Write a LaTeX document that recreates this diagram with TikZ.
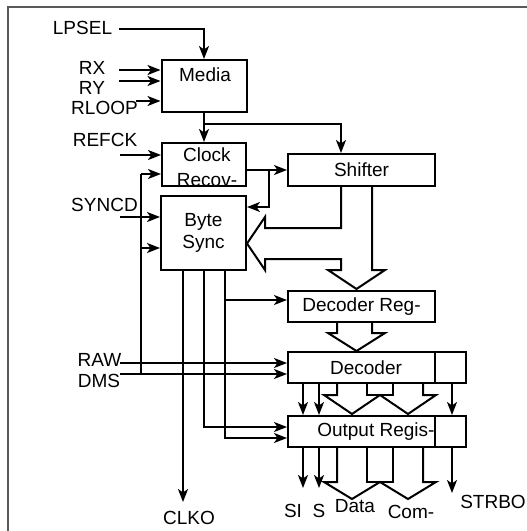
\documentclass[tikz,border=0pt]{standalone}
\usepackage{fontspec}
\setmainfont{Liberation Sans}
\usetikzlibrary{arrows.meta,positioning}

\begin{document}
\begin{tikzpicture}[x=1pt,y=-1pt,line width=2pt,
  blk/.style={draw,inner sep=0pt,align=center,font=\fontsize{19}{22}\selectfont},
  lbl/.style={inner sep=0pt,align=center,font=\fontsize{19}{22}\selectfont},
  sig/.style={-{Stealth[length=13pt,width=10pt,inset=3.5pt]}},
  bus/.style={line join=miter}]
\useasboundingbox (0,0) rectangle (527,531);
% frame
\draw[gray!70!black,line width=1.3pt] (8,531) -- (8,7) -- (527,7);

% blocks
\node[blk,minimum width=85pt,minimum height=52pt] (media) at (204,86) {};
\node[lbl] (mediatxt) at (205,75) {Media};
\node[blk,minimum width=84pt,minimum height=43pt] (clock) at (204,164.5) {};
\node[lbl,font=\fontsize{19}{25}\selectfont] (clocktxt) at (207,167.5) {Clock\\Recov-};
\node[blk,minimum width=85pt,minimum height=74pt,font=\fontsize{19}{22}\selectfont] (bytesync) at (203.5,233) {Byte\\Sync};
\node[blk,minimum width=147pt,minimum height=32pt] (shifter) at (361.5,170) {Shifter};
\node[blk,minimum width=147pt,minimum height=31pt] (decreg) at (361.5,306.5) {Decoder Reg-};
\node[blk,minimum width=147pt,minimum height=31pt] (decoder) at (361.5,367.5) {};
\node[blk,minimum width=31pt,minimum height=31pt] (decext) at (450.5,367.5) {};
\node[lbl] (decodertxt) at (366,367.5) {Decoder};
\node[blk,minimum width=147pt,minimum height=31pt] (outreg) at (361.5,431.5) {};
\node[blk,minimum width=31pt,minimum height=31pt] (outext) at (450.5,431.5) {};
\node[lbl,anchor=east] (outregtxt) at ([xshift=-0.5pt]outreg.east) {Output Regis-};

% labels
\node[lbl] (lpsel) at (82.5,28) {LPSEL};
\node[lbl] (rx) at (92,68) {RX};
\node[lbl] (ry) at (92,88) {RY};
\node[lbl] (rloop) at (104.5,108) {RLOOP};
\node[lbl] (refck) at (105,140) {REFCK};
\node[lbl] (syncd) at (104.5,204.5) {SYNCD};
\node[lbl] (raw) at (99.5,360) {RAW};
\node[lbl] (dms) at (99,380.5) {DMS};
\node[lbl] (clko) at (189,518) {CLKO};
\node[lbl] (si) at (293,511) {SI};
\node[lbl] (s) at (319,511) {S};
\node[lbl] (data) at (355,506) {Data};
\node[lbl] (com) at (411,512) {Com-};
\node[lbl] (strbo) at (493,502) {STRBO};

% end points
\coordinate (inLP) at (119,29);
\coordinate (inRX) at (119,70);
\coordinate (inRY) at (119,81);
\coordinate (inRL) at (136,101);
\coordinate (inREF) at (120,155);
\coordinate (inSYN) at (120,217);
\coordinate (inRAW) at (120,363);
\coordinate (inDMS) at (120,374);
\coordinate (fbtop) at (141,174);
\coordinate (fbmid) at (141,248);
\coordinate (fbbot) at (141,374);
\coordinate (mj) at (204,124);
\coordinate (sj) at (269,170);
\coordinate (sjb) at (269,207);
\coordinate (busL) at (341,0);
\coordinate (tapA) at (183,0);
\coordinate (tapB) at (204,0);
\coordinate (tapC) at (225,0);
\coordinate (drA) at (0,300);
\coordinate (orA) at (0,427);
\coordinate (orB) at (0,438);
\coordinate (xSI) at (303,0);
\coordinate (xS) at (319,0);
\coordinate (xST) at (452,0);
\coordinate (outCLK) at (183,502);
\coordinate (outSI) at (303,488);
\coordinate (outS) at (319,488);
\coordinate (outST) at (452,493);

% inputs
\draw[sig] (inLP) -| (media.north);
\draw[sig] (inRX) -- (inRX -| media.west);
\draw[sig] (inRY) -- (inRY -| media.west);
\draw[sig] (inRL) -- (inRL -| media.west);
\draw[sig] (inREF) -- (inREF -| clock.west);
\draw[sig] (inSYN) -- (inSYN -| bytesync.west);
\draw[sig] (inRAW) -- (inRAW -| decoder.west);
\draw[sig] (inDMS) -- (inDMS -| decoder.west);
\draw (fbbot) -- (fbtop);
\draw[sig] (fbtop) -- (fbtop -| clock.west);
\draw[sig] (fbmid) -- (fbmid -| bytesync.west);

% media / clock / shifter
\draw (media.south) -- (mj);
\draw[sig] (mj) -- (clock.north);
\draw[sig] (mj) -| (shifter.north -| busL);
\draw[sig] (clock.east |- shifter.west) -- (shifter.west);
\draw[sig] (sj) -- (sjb) -- (sjb -| bytesync.east);

% byte sync taps
\draw[sig] (bytesync.south -| tapA) -- (outCLK);
\draw[sig] (bytesync.south -| tapB) |- (outreg.west |- orA);
\draw[sig] (bytesync.south -| tapC) |- (outreg.west |- orB);
\draw[sig] (tapC |- drA) -- (decreg.west |- drA);

% shifter bus
\draw[bus] (shifter.south -| busL) -- (341,228) -- (265,228) -- (265,217)
  -- (247,243.5) -- (265,270) -- (265,259) -- (341,259) -- (341,270)
  -- (328,270) -- (356.5,289) -- (385,270) -- (372,270) -- (372,186);
\draw[bus] (337,322) -- (337,333) -- (328,333) -- (356.5,351) -- (385,333)
  -- (372,333) -- (372,322);

% decoder to output register
\draw[sig] (decoder.south -| xSI) -- (outreg.north -| xSI);
\draw[sig] (decoder.south -| xS) -- (outreg.north -| xS);
\draw[sig] (decext.south -| xST) -- (outext.north -| xST);
\draw[bus] (337,383) -- (337,395) -- (324,395) -- (352,414) -- (380,395)
  -- (408,414) -- (436,395) -- (423,395) -- (423,383);
\draw[bus] (367,383) -- (367,395) -- (393,395) -- (393,383);

% outputs
\draw[sig] (outreg.south -| xSI) -- (outSI);
\draw[sig] (outreg.south -| xS) -- (outS);
\draw[sig] (outext.south -| xST) -- (outST);
\draw[bus] (337,447) -- (337,482) -- (324,482) -- (352,499) -- (380,482)
  -- (408,499) -- (436,482) -- (423,482) -- (423,447);
\draw[bus] (367,447) -- (367,482) -- (393,482) -- (393,447);
\end{tikzpicture}
\end{document}
